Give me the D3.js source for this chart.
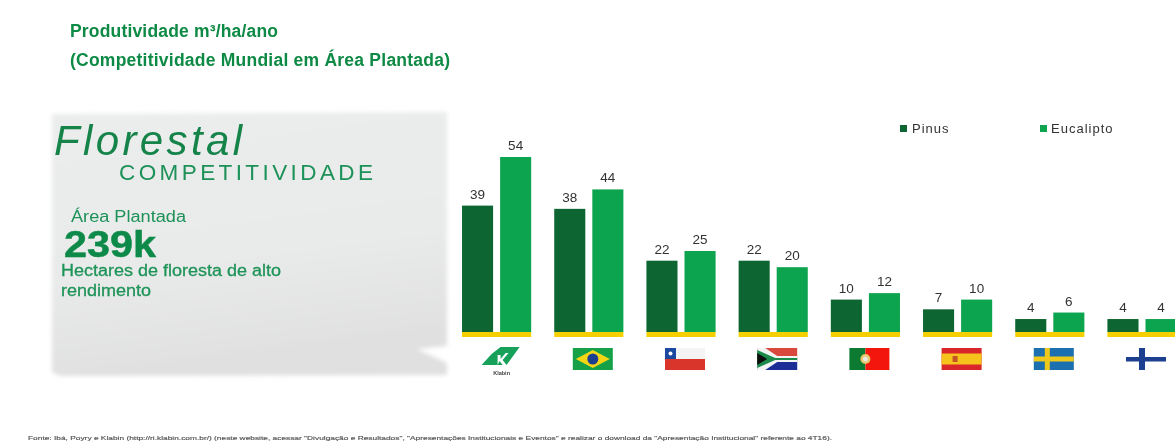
<!DOCTYPE html>
<html><head><meta charset="utf-8">
<script src="https://cdn.jsdelivr.net/npm/d3@7/dist/d3.min.js"></script>
<style>html,body{margin:0;background:#fff}svg{display:block}text{font-family:"Liberation Sans",Arial,sans-serif}</style>
</head><body><svg id="c" width="1175" height="444"></svg>
<script>
const categories=["Klabin","Brasil","Chile","África do Sul","Portugal","Espanha","Suécia","Finlândia"];
const pinus=[39,38,22,22,10,7,4,4];
const eucalipto=[54,44,25,20,12,10,6,4];
const seriesNames=["Pinus","Eucalipto"];
const colors=["#0b6531","#0ca44f"];
const svg=d3.select("#c");
const defs=svg.append("defs");
defs.append("filter").attr("id","soft").attr("x","-5%").attr("y","-5%").attr("width","110%").attr("height","110%")
  .append("feGaussianBlur").attr("stdDeviation",0.5);
defs.append("filter").attr("id","soft2").attr("x","-5%").attr("y","-5%").attr("width","110%").attr("height","110%")
  .append("feGaussianBlur").attr("stdDeviation",2.2);
const grad=defs.append("linearGradient").attr("id","pg").attr("x1",0).attr("y1",0).attr("x2",0.2).attr("y2",1);
grad.append("stop").attr("offset",0).attr("stop-color","#ebecec");
grad.append("stop").attr("offset",0.6).attr("stop-color","#e9eaea");
grad.append("stop").attr("offset",1).attr("stop-color","#e0e0e0");
const root=svg.append("g").attr("filter","url(#soft)");

// panel
svg.insert("path","g").attr("filter","url(#soft2)").attr("fill","url(#pg)")
 .attr("d","M52,114 L447,112 L447,346 L417,349 L447,363 L447,375 L60,376 L52,372 Z");

const G="#0f8a48";
function t(x,y,s,size,opts={}){const e=root.append("text").attr("x",x).attr("y",y).attr("font-size",size).attr("fill",opts.fill||G).text(s);
 if(opts.weight)e.attr("font-weight",opts.weight);if(opts.style)e.attr("font-style",opts.style);if(opts.ls)e.attr("letter-spacing",opts.ls);if(opts.anchor)e.attr("text-anchor",opts.anchor);if(opts.len)e.attr("textLength",opts.len).attr("lengthAdjust",opts.adj||"spacing");if(opts.stroke)e.attr("stroke",opts.fill||G).attr("stroke-width",opts.stroke);return e;}
const W="spacingAndGlyphs";
t(70,37,"Produtividade m³/ha/ano",17.5,{weight:700,fill:"#0e8a44",len:208});
t(70,66,"(Competitividade Mundial em Área Plantada)",17.5,{weight:700,fill:"#0e8a44",len:380});
t(54,155,"Florestal",42,{style:"italic",fill:"#13834a",len:188});
t(119,180,"COMPETITIVIDADE",22.5,{fill:"#1b9158",len:254});
t(71,222,"Área Plantada",16,{fill:"#1b9158",len:115,adj:W});
t(64,257,"239k",36,{weight:700,fill:"#0f8a48",len:92,adj:W,stroke:0.5});
t(61,276,"Hectares de floresta de alto",16,{fill:"#1f9459",len:220,adj:W,stroke:0.3});
t(61,296,"rendimento",16,{fill:"#1f9459",len:90,adj:W,stroke:0.3});
t(28,440,"Fonte: Ibá, Poyry e Klabin (http://ri.klabin.com.br/) (neste website, acessar \"Divulgação e Resultados\", \"Apresentações Institucionais e Eventos\" e realizar o download da \"Apresentação Institucional\" referente ao 4T16).",5.6,{fill:"#555",len:804,adj:W,stroke:0.15});

// chart
const x=d3.scaleBand().domain(categories).range([450.5,1188.1]).paddingInner(0.25).paddingOuter(0.125);
const inner=d3.scaleBand().domain(seriesNames).range([0,x.bandwidth()]).paddingInner(0.184).paddingOuter(0);
const baseline=332;
const y=d3.scaleLinear().domain([0,54]).range([baseline,157]);
const rows=categories.map((c,i)=>({c,values:[pinus[i],eucalipto[i]]}));
const grp=root.selectAll("g.grp").data(rows).join("g").attr("class","grp").attr("transform",d=>`translate(${x(d.c)},0)`);
grp.append("rect").attr("x",0).attr("y",baseline).attr("width",x.bandwidth()).attr("height",5).attr("fill","#f5cf00");
grp.selectAll("rect.bar").data(d=>d.values.map((v,i)=>({v,s:seriesNames[i],i}))).join("rect").attr("class","bar")
 .attr("x",d=>inner(d.s)).attr("y",d=>y(d.v)).attr("width",inner.bandwidth()).attr("height",d=>baseline-y(d.v)).attr("fill",d=>colors[d.i]);
grp.selectAll("text.lab").data(d=>d.values.map((v,i)=>({v,s:seriesNames[i]}))).join("text").attr("class","lab")
 .attr("x",d=>inner(d.s)+inner.bandwidth()/2).attr("y",d=>y(d.v)-7).attr("text-anchor","middle").attr("font-size",13.5).attr("fill","#333").text(d=>d.v);

// legend
[[900,"Pinus",912],[1040,"Eucalipto",1051]].forEach(([lx,s,tx],i)=>{
 root.append("rect").attr("x",lx).attr("y",125).attr("width",7).attr("height",7).attr("fill",colors[i]);
 t(tx,133,s,13,{fill:"#333",ls:"1px"});
});

// flags
const fw=40,fh=22,fy=348;
function fcx(c){return x(c)+x.bandwidth()/2+4;}
function flag(c){return root.append("g").attr("transform",`translate(${fcx(c)-fw/2},${fy})`);}
function R(g,a,b,w,h,f){g.append("rect").attr("x",a).attr("y",b).attr("width",w).attr("height",h).attr("fill",f);}
function P(g,d,f){g.append("path").attr("d",d).attr("fill",f);}
let k=flag("Klabin");
P(k,"M20,-1 L39,-1 L26,17 L1,17 L11,6 Z","#12a05a");
P(k,"M17,7 L20,7 L20,11 L25,5 L28,5 L22,12 L26,17 L22,17 L19,13 L17,17 Z","#fff");
k.append("text").attr("x",21).attr("y",27).attr("font-size",5.5).attr("font-weight",700).attr("text-anchor","middle").attr("fill","#444").text("Klabin");
let b=flag("Brasil");R(b,0,0,fw,fh,"#12a14a");P(b,"M20,2 L37,11 L20,20 L3,11 Z","#f4d612");b.append("circle").attr("cx",20).attr("cy",11).attr("r",5.5).attr("fill","#1c3f8f");
let cl=flag("Chile");R(cl,0,0,fw,11,"#f4f4f4");R(cl,0,11,fw,11,"#d9342b");R(cl,0,0,11,11,"#1f4aa0");cl.append("circle").attr("cx",5.5).attr("cy",5.5).attr("r",2).attr("fill","#fff");
let z=flag("África do Sul");R(z,0,0,fw,11,"#d94a3c");R(z,0,11,fw,11,"#1a2f96");P(z,"M0,0 L8,0 L20,8 L40,8 L40,14 L20,14 L8,22 L0,22 Z","#f4f4f4");P(z,"M0,2 L18,10 L40,10 L40,12 L18,12 L0,20 Z","#1c8a4a");P(z,"M0,5 L10,11 L0,17 Z","#111");
let pt=flag("Portugal");R(pt,0,0,16,fh,"#0a7a30");R(pt,16,0,24,fh,"#f2120f");pt.append("circle").attr("cx",16).attr("cy",11).attr("r",5).attr("fill","#e8c96a");pt.append("circle").attr("cx",16).attr("cy",11).attr("r",2.5).attr("fill","#e8e8e8");
let es=flag("Espanha");R(es,0,0,fw,fh,"#d8272a");R(es,0,5.5,fw,11,"#f6c21a");R(es,11,8,5,6,"#c4532a");
let se=flag("Suécia");R(se,0,0,fw,fh,"#1a6fb0");R(se,11,0,5,fh,"#eec91b");R(se,0,8.5,fw,5,"#eec91b");
let fi=flag("Finlândia");R(fi,0,0,fw,fh,"#ffffff");R(fi,13,0,6,fh,"#1c3f8f");R(fi,0,9,fw,4.5,"#1c3f8f");
</script></body></html>
